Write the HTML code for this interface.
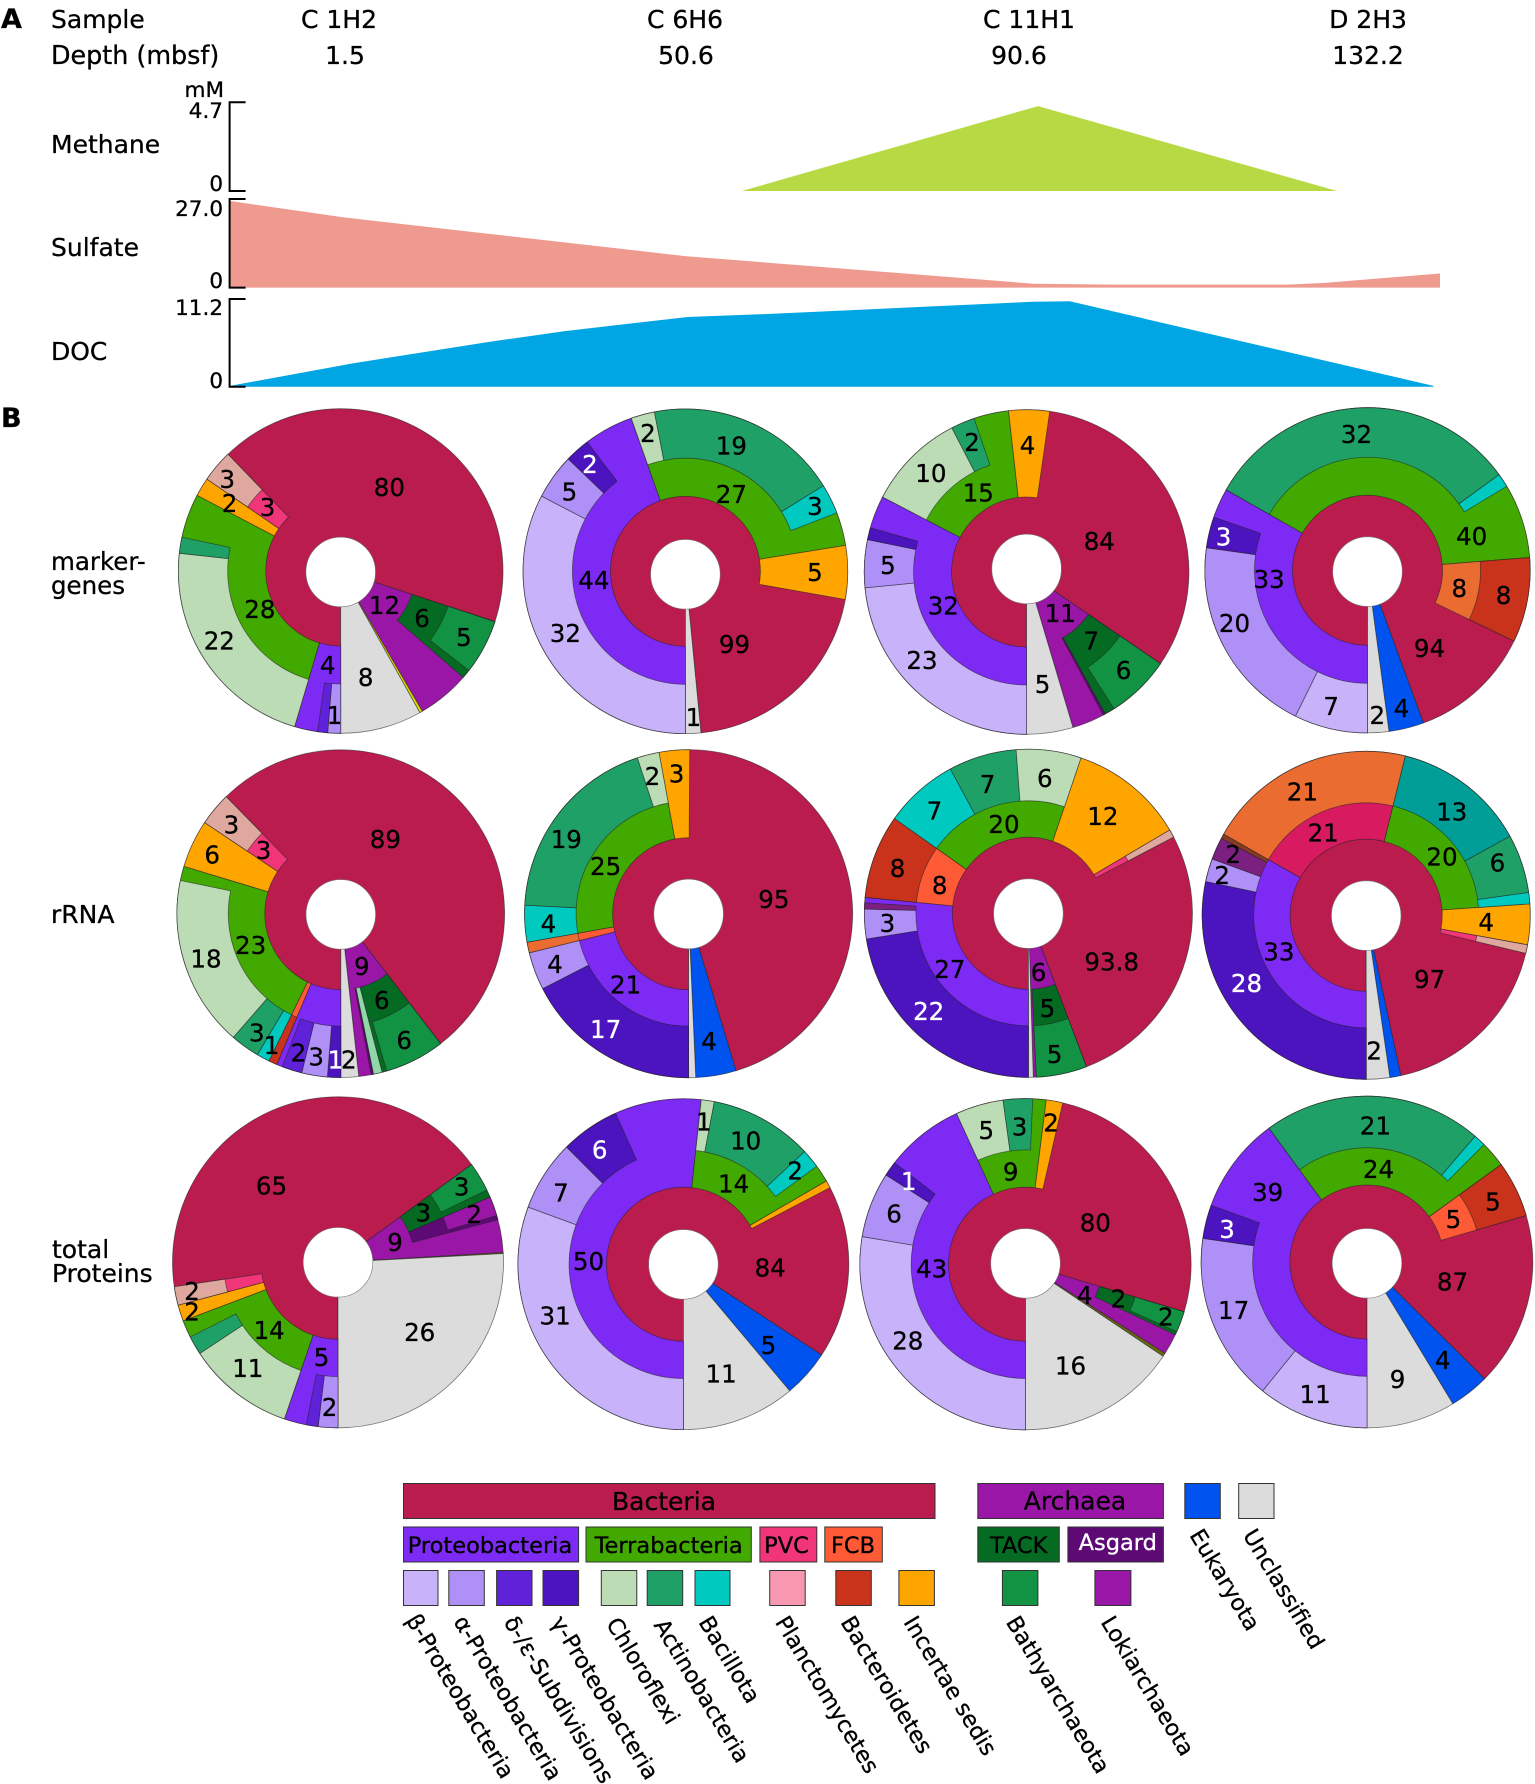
<!DOCTYPE html>
<html lang="en">
<head>
<meta charset="utf-8">
<title>Sample geochemistry and taxonomic composition</title>
<style>
html,body{margin:0;padding:0;background:#fff;}
svg{display:block;}
text{font-family:"DejaVu Sans","Liberation Sans",sans-serif;fill:#000;stroke:#000;stroke-width:.3px;}
.h{font-size:25px;}
.t{font-size:21.5px;text-anchor:end;}
.c{font-size:25px;text-anchor:middle;}
.lg{font-size:25px;text-anchor:middle;}
.lm{font-size:22.5px;text-anchor:middle;}
.lr{font-size:22.5px;}
.sw{stroke:#333;stroke-width:1;}
</style>
</head>
<body>
<svg id="chart" xmlns="http://www.w3.org/2000/svg" width="1535" height="1784" viewBox="0 0 1535 1784">
  <rect x="0" y="0" width="1535" height="1784" fill="#fff"/>
  <text x="1" y="28" font-size="27" font-weight="bold">A</text>
  <text x="1" y="427" font-size="27" font-weight="bold">B</text>
  <text class="h" x="51" y="28">Sample</text>
  <text class="h" x="51" y="64" style="font-size:25.4px">Depth (mbsf)</text>
  <text class="c" x="339" y="28">C 1H2</text>
  <text class="c" x="685" y="28">C 6H6</text>
  <text class="c" x="1029" y="28">C 11H1</text>
  <text class="c" x="1368" y="28">D 2H3</text>
  <text class="c" x="345" y="64">1.5</text>
  <text class="c" x="686" y="64">50.6</text>
  <text class="c" x="1019" y="64">90.6</text>
  <text class="c" x="1368" y="64">132.2</text>

  <text class="t" x="224" y="97">mM</text>
  <text class="h" x="51" y="153">Methane</text>
  <text class="h" x="51" y="256">Sulfate</text>
  <text class="h" x="51" y="360">DOC</text>

  <g id="areas"></g>

  <path d="M245.6 102.3H229.6V191H245.6" fill="none" stroke="#000" stroke-width="2"/>
  <path d="M245.6 199H229.6V287.6H245.6" fill="none" stroke="#000" stroke-width="2"/>
  <path d="M245.6 299H229.6V386.7H245.6" fill="none" stroke="#000" stroke-width="2"/>
  <text class="t" x="223" y="118">4.7</text>
  <text class="t" x="223" y="191">0</text>
  <text class="t" x="223" y="216">27.0</text>
  <text class="t" x="223" y="288">0</text>
  <text class="t" x="223" y="315">11.2</text>
  <text class="t" x="223" y="388">0</text>

  <text class="h" x="51" y="570" style="font-size:24.5px">marker-</text>
  <text class="h" x="51" y="594" style="font-size:24.5px">genes</text>
  <text class="h" x="51" y="923">rRNA</text>
  <text class="h" x="52" y="1258">total</text>
  <text class="h" x="52" y="1282">Proteins</text>

  <g id="pies"></g>

  <g>
    <rect class="sw" x="403.5" y="1483.5" width="531.5" height="35" fill="#bb1c4e"/>
    <rect class="sw" x="977.8" y="1483.5" width="185.6" height="35" fill="#9a16a6"/>
    <rect class="sw" x="1184.8" y="1483.5" width="35.5" height="35" fill="#0053ef"/>
    <rect class="sw" x="1238.7" y="1483.5" width="35.3" height="35" fill="#dcdcdc"/>
    <text class="lg" x="664" y="1510">Bacteria</text>
    <text class="lg" x="1075" y="1509.5">Archaea</text>

    <rect class="sw" x="403.5" y="1527" width="175.1" height="35" fill="#7e2af5"/>
    <rect class="sw" x="586" y="1527" width="165.3" height="35" fill="#41a900"/>
    <rect class="sw" x="759.9" y="1527" width="56.9" height="35" fill="#f03579"/>
    <rect class="sw" x="824.8" y="1527" width="57.5" height="35" fill="#ff5a36"/>
    <rect class="sw" x="977.8" y="1527" width="81.5" height="35" fill="#066b22"/>
    <rect class="sw" x="1067.9" y="1527" width="95.5" height="35" fill="#5d0a75"/>
    <text class="lm" x="490" y="1553">Proteobacteria</text>
    <text class="lm" x="668.6" y="1553">Terrabacteria</text>
    <text class="lm" x="786.5" y="1553">PVC</text>
    <text class="lm" x="853" y="1553">FCB</text>
    <text class="lm" x="1018.6" y="1553">TACK</text>
    <text class="lm" x="1117.8" y="1550" style="fill:#fff;stroke:#fff">Asgard</text>

    <rect class="sw" x="403.5" y="1570.5" width="34.5" height="35" fill="#c8b3fb"/>
    <rect class="sw" x="448.8" y="1570.5" width="35.5" height="35" fill="#ae90f7"/>
    <rect class="sw" x="496.6" y="1570.5" width="35.4" height="35" fill="#5f22d8"/>
    <rect class="sw" x="543" y="1570.5" width="35.6" height="35" fill="#4b14bf"/>
    <rect class="sw" x="601.3" y="1570.5" width="35.5" height="35" fill="#bbdcb4"/>
    <rect class="sw" x="647.2" y="1570.5" width="35.5" height="35" fill="#1fa066"/>
    <rect class="sw" x="695" y="1570.5" width="35" height="35" fill="#00c9bf"/>
    <rect class="sw" x="769.7" y="1570.5" width="35.5" height="35" fill="#f798b0"/>
    <rect class="sw" x="835.8" y="1570.5" width="35.5" height="35" fill="#c9321b"/>
    <rect class="sw" x="898.9" y="1570.5" width="35.5" height="35" fill="#ffa500"/>
    <rect class="sw" x="1002.4" y="1570.5" width="35.5" height="35" fill="#119343"/>
    <rect class="sw" x="1094.9" y="1570.5" width="36" height="35" fill="#9a16a6"/>

    <text class="lr" transform="translate(405.5 1620) rotate(59)">β-Proteobacteria</text>
    <text class="lr" transform="translate(453 1621.5) rotate(59)">α-Proteobacteria</text>
    <text class="lr" transform="translate(503.3 1622) rotate(59)">δ-/ε-Subdivisions</text>
    <text class="lr" transform="translate(550.4 1622) rotate(59)">γ-Proteobacteria</text>
    <text class="lr" transform="translate(605.6 1623.5) rotate(59)">Chloroflexi</text>
    <text class="lr" transform="translate(653.3 1625) rotate(59)">Actinobacteria</text>
    <text class="lr" transform="translate(698 1622) rotate(59)">Bacillota</text>
    <text class="lr" transform="translate(774.6 1622) rotate(59)">Planctomycetes</text>
    <text class="lr" transform="translate(840 1622) rotate(59)">Bacteroidetes</text>
    <text class="lr" transform="translate(903 1622) rotate(59)">Incertae sedis</text>
    <text class="lr" transform="translate(1005.4 1622) rotate(59)">Bathyarchaeota</text>
    <text class="lr" transform="translate(1100.3 1622) rotate(59)">Lokiarchaeota</text>
    <text class="lr" transform="translate(1189 1535) rotate(59)">Eukaryota</text>
    <text class="lr" transform="translate(1242.4 1535) rotate(59)">Unclassified</text>
  </g>
</svg>

<script>
/* ---------- Panel A data (depth in mbsf, concentration in mM) ---------- */
const methaneDepths = [57.2, 91.6, 128.4];
const methaneValues = [0, 4.5, 0];
const sulfateDepths = [0, 2.04, 50.6, 91, 100.9, 122.2, 126.7, 141];
const sulfateValues = [26.4, 21.4, 9.6, 1.2, 0.9, 0.9, 1.4, 4.3];
const docDepths = [0, 3.4, 23.3, 33.5, 50.9, 60.5, 91, 95.5, 140.2];
const docValues = [0.1, 3, 5.8, 7.1, 8.9, 9.3, 10.85, 10.9, 0.1];

/* ---------- Panel B data: segments clockwise from 6 o'clock ---------- */
const markerC1Taxa = ['bac.pro.alp','bac.pro.del','bac.pro','bac.ter.chl','bac.ter.act','bac.ter','bac.inc','bac.pvc.sal','bac','arc.tack.bath','arc.tack','arc','yel','unc'];
const markerC1Shares = [4.6,3.6,8.3,79.8,5.7,15.8,6.7,11.5,152.2,19.6,3.2,18.8,1,29.2];
const markerC1Printed = ['12','6','5','8','1','4','22','28','2','3','3','80'];
const markerC2Taxa = ['bac.pro.beta','bac.pro.alp','bac.pro.gam','bac.pro','bac.ter.chl','bac.ter.act','bac.ter.bacl','bac.ter','bac.inc','bac','unc'];
const markerC2Shares = [117.6,16.2,9,17.7,8.5,69.2,10.7,11.9,19.2,74.5,5.5];
const markerC2Printed = ['99','1','32','44','5','2','2','19','27','3','5'];
const markerC3Taxa = ['bac.pro.beta','bac.pro.alp','bac.pro.gam','bac.pro','bac.ter.chl','bac.ter.act','bac.ter','bac.inc','bac','arc.tack.bath','arc.tack','arc.asg','arc','unc'];
const markerC3Shares = [84.4,17.1,4.3,11.7,35.1,8.5,12.5,14.6,116.2,23,3.6,0.8,11.6,16.6];
const markerC3Printed = ['84','4','2','10','15','5','32','23','5','11','7','6'];
const markerC4Taxa = ['bac.pro.beta','bac.pro.alp','bac.pro.gam','bac.pro','bac.ter.act','bac.ter.bacl','bac.ter','bac.fcbo.rbd','bac','euk','unc'];
const markerC4Shares = [26.3,71.7,11.1,10.6,114.3,4.9,26.6,30.3,44.1,12.5,7.6];
const markerC4Printed = ['32','40','3','33','20','8','8','94','7','2','4'];

const rrnaC1Taxa = ['bac.pro.gam','bac.pro.alp','bac.pro.del','bac.pro','bac.fcb.rbd','bac.ter.bacl','bac.ter.act','bac.ter.chl','bac.ter','bac.inc','bac.pvc.sal','bac','arc.tack.bath','arc.tack','arc.mint','arc.asg','arc','unc'];
const rrnaC1Shares = [4.7,9.1,7.1,2.1,3,4.6,10.4,60.7,5.1,17,11.8,186.9,21.2,1.7,3.1,0.8,4.4,6.3];
const rrnaC1Printed = ['89','3','3','6','18','23','9','6','6','3','1','2','3','1','2'];
const rrnaC2Taxa = ['bac.pro.gam','bac.pro.alp','bac.fcb.ora','bac.ter.bacl','bac.ter.act','bac.ter.chl','bac.inc','bac','euk','unc'];
const rrnaC2Shares = [62.8,13.4,3.8,13,68.8,7.8,10.8,162.8,14.3,2.5];
const rrnaC2Printed = ['95','3','2','19','25','4','4','21','17','4'];
const rrnaC3Taxa = ['bac.pro.gam','bac.pro.alp','bac.pro.dpu','bac.pro','bac.fcb.rbd','bac.ter.bacl','bac.ter.act','bac.ter.chl','bac.inc','bac.pvc.sal','bac','arc.tack.bath','arc','unc'];
const rrnaC3Shares = [81,10.5,2.2,1.9,29.7,26.3,24.1,23,40.8,2.8,97,17.9,1.1,1.7];
const rrnaC3Printed = ['93.8','12','6','7','20','7','8','8','3','27','22','6','5','5'];
const rrnaC4Taxa = ['bac.pro.gam','bac.pro.alp','bac.pro.dpu','bac.pro.brn','bac.mag.ora','bac.ter.teal','bac.ter.act','bac.ter.bacl','bac.inc','bac.pvc.sal','bac','euk','unc'];
const rrnaC4Shares = [101.9,8.2,7.9,1.7,74.1,47.4,20.8,4,14.4,3,64.4,3.9,8.3];
const rrnaC4Printed = ['21','13','21','20','6','4','2','2','33','28','97','2'];

const proteinC1Taxa = ['bac.pro.alp','bac.pro.del','bac.pro','bac.ter.chl','bac.ter.act','bac.ter','bac.inc','bac.pvc.sal','bac','arc.tack.bath','arc.tack','arc.asg.loki','arc.asg','arc','oli','unc'];
const proteinC1Shares = [6.9,4.1,7.9,37.7,6.6,6.1,5.7,6.5,152.3,10.3,2.7,6.8,1.5,11.5,0.4,93];
const proteinC1Printed = ['65','3','3','2','9','2','2','14','11','5','2','26'];
const proteinC2Taxa = ['bac.pro.beta','bac.pro.alp','bac.pro.gam','bac.pro','bac.ter.chl','bac.ter.act','bac.ter.bacl','bac.ter','bac.inc','bac','euk','unc'];
const proteinC2Shares = [110.2,24.9,20.7,30.4,4.6,36.3,6.6,6.1,2.6,60.9,16.7,40];
const proteinC2Printed = ['1','10','2','14','6','7','50','31','84','5','11'];
const proteinC3Taxa = ['bac.pro.beta','bac.pro.alp','bac.pro.gam','bac.pro','bac.ter.chl','bac.ter.act','bac.ter','bac.inc','bac','arc.tack.bath','arc.tack','arc','oli','unc'];
const proteinC3Shares = [99.6,23,5.2,27.6,16.8,10.3,4.7,5.8,93.7,7.3,1.2,7.4,1.2,56.2];
const proteinC3Printed = ['80','5','3','2','9','1','6','43','28','16','4','2','2'];
const proteinC4Taxa = ['bac.pro.beta','bac.pro.alp','bac.pro.gam','bac.pro','bac.ter.act','bac.ter.bacl','bac.ter','bac.fcb.rbd','bac','euk','unc'];
const proteinC4Shares = [39,59.2,11.8,33.8,76.9,4.2,9.1,19.7,61.1,14,31.2];
const proteinC4Printed = ['21','24','39','3','17','11','9','4','87','5','5'];

const rowNames = ['marker-genes','rrna','total-proteins'];
const sampleNames = ['c-1h2','c-6h6','c-11h1','d-2h3'];

/* ---------- layout and style (not data) ---------- */
const taxonColors = {
  bac:'#bb1c4e', pro:'#7e2af5', ter:'#41a900', pvc:'#f03579', fcb:'#ff5a36', fcbo:'#ea6c30', mag:'#d81b60',
  inc:'#ffa500', arc:'#9a16a6', tack:'#066b22', asg:'#5d0a75', euk:'#0053ef', unc:'#dcdcdc', yel:'#d8d800', oli:'#6b6b10',
  beta:'#c8b3fb', alp:'#ae90f7', del:'#5f22d8', gam:'#4b14bf', dpu:'#7b2080', brn:'#8a3a20',
  chl:'#bbdcb4', act:'#1fa066', bacl:'#00c9bf', teal:'#009e96',
  sal:'#dfa89f', rbd:'#c9321b', ora:'#ea6c30', bath:'#119343', loki:'#9a16a6', mint:'#90d8a8'
};
const taxonNames = {
  bac:'bacteria', pro:'proteobacteria', ter:'terrabacteria', pvc:'pvc', fcb:'fcb', fcbo:'fcb', mag:'bacteria-group',
  inc:'incertae-sedis', arc:'archaea', tack:'tack', asg:'asgard', euk:'eukaryota', unc:'unclassified', yel:'eukaryota', oli:'eukaryota',
  beta:'beta-proteobacteria', alp:'alpha-proteobacteria', del:'delta-epsilon', gam:'gamma-proteobacteria', dpu:'proteobacteria-other', brn:'proteobacteria-other',
  chl:'chloroflexi', act:'actinobacteria', bacl:'bacillota', teal:'terrabacteria-other',
  sal:'planctomycetes', rbd:'bacteroidetes', ora:'fcb-outer', bath:'bathyarchaeota', loki:'lokiarchaeota', mint:'archaea-other'
};
const pieTaxa = [markerC1Taxa,markerC2Taxa,markerC3Taxa,markerC4Taxa,rrnaC1Taxa,rrnaC2Taxa,rrnaC3Taxa,rrnaC4Taxa,proteinC1Taxa,proteinC2Taxa,proteinC3Taxa,proteinC4Taxa];
const pieShares = [markerC1Shares,markerC2Shares,markerC3Shares,markerC4Shares,rrnaC1Shares,rrnaC2Shares,rrnaC3Shares,rrnaC4Shares,proteinC1Shares,proteinC2Shares,proteinC3Shares,proteinC4Shares];
const piePrinted = [markerC1Printed,markerC2Printed,markerC3Printed,markerC4Printed,rrnaC1Printed,rrnaC2Printed,rrnaC3Printed,rrnaC4Printed,proteinC1Printed,proteinC2Printed,proteinC3Printed,proteinC4Printed];
const pieFrames = [
  {x:340.7,y:571,r:162.3,hole:1},{x:685.4,y:571.3,r:162.3,hole:3},{x:1026.6,y:572,r:162.3,hole:-3},{x:1367.5,y:570.3,r:162.6,hole:1.3},
  {x:340.8,y:913.7,r:163.8,hole:0.7},{x:688.6,y:913.7,r:164,hole:0.3},{x:1028.4,y:913.3,r:164,hole:0.3},{x:1366.2,y:915.3,r:164,hole:0.3},
  {x:338,y:1262.3,r:165.5,hole:0},{x:683.4,y:1264.2,r:165.4,hole:0.2},{x:1025.5,y:1264.2,r:165.6,hole:-0.8},{x:1367,y:1262,r:165.8,hole:1.3}
];
const ringBreaks = [[75,113],[76,112.5],[77,114.3]];
const holeRadius = 34.8;
const labelOffsets = [
  [[43.8,34],[81.3,47.3],[123.2,66.3],[25,106.3],[-6.3,144],[-13,94],[-121.4,69.7],[-80.8,38.3],[-111.2,-67.7],[-113.4,-92],[-73.2,-63.7],[48.7,-83.7]],
  [[49.1,72.7],[8,146],[-120,62],[-91.5,8.7],[-116,-79.7],[-95.5,-107.3],[-37.5,-138],[46,-125.7],[46,-77.3],[129.5,-65.3],[129.5,1]],
  [[72.7,-31],[0.9,-127],[-54.5,-129.7],[-95.7,-98.7],[-48.3,-79.3],[-138.7,-7],[-83.3,33.7],[-104.6,88],[16,112],[33.7,41.3],[64.7,68.7],[97,98]],
  [[-11,-136.3],[104.2,-34.3],[-144,-33.7],[-98.4,9],[-133,53],[91.8,18],[136,24.7],[62,78],[-36.3,135.7],[9.8,144.7],[34.1,138]],
  [[44.6,-74.7],[-109.4,-89.3],[-77.2,-63.7],[-128.6,-59.3],[-134.8,44.7],[-90.2,31.3],[21,52.3],[41,86.3],[63.4,126.3],[-84,118.7],[-69.2,131.3],[-42.4,138.7],[-24.6,143],[-5.4,145.7],[8,145.7]],
  [[85.3,-14.7],[-12,-140.3],[-36.2,-137.7],[-122.3,-74.7],[-83,-47.7],[-140.2,9.7],[-133.5,50.3],[-63,70.7],[-83,115.3],[20.5,127.3]],
  [[83.3,48.3],[74.5,-97.3],[16.4,-135],[-40.8,-129],[-24.4,-89],[-94,-102.7],[-130.8,-45],[-88.7,-28.3],[-141,10],[-78.5,56],[-99.7,97.7],[10.2,59],[19,95],[26.2,141]],
  [[-63.8,-123.7],[85.5,-103.7],[-43,-82.7],[75.8,-58.7],[131.2,-52.7],[120,7],[-133,-61],[-144,-40.3],[-87.3,36.3],[-119.7,68],[63.4,63.7],[8,135.3]],
  [[-66.5,-76.7],[123.7,-75.7],[85.3,-49.7],[136.2,-48],[57.1,-20],[-146,28.7],[-146,49.3],[-68.8,67.7],[-90.2,106],[-16.5,95],[-8.5,145],[81.7,70]],
  [[20.3,-142.5],[62.3,-123.5],[111.8,-93.5],[50.2,-80.8],[-83.7,-114.8],[-122.5,-71.5],[-94.9,-3.2],[-128.3,51.5],[86.8,3.2],[85,80.8],[37.7,109.2]],
  [[69.8,-41.8],[-39.2,-134.2],[-6,-137.5],[25.5,-141.5],[-14.8,-92.5],[-116.8,-83.2],[-131.4,-50.8],[-93.8,4.2],[-117.7,76.5],[45,101.5],[59.2,30.8],[92.9,34.2],[140.3,52.5]],
  [[8.4,-136.3],[11.5,-92.7],[-99.3,-69.7],[-140,-32.7],[-133.4,48],[-51.9,132],[30.6,117],[75.8,98],[85.5,19.7],[86.4,-43],[125.9,-60.3]]
];
const lightLabelIndex = [-1,5,-1,2,13,8,10,9,-1,4,5,3];

/* ---------- axis functions ---------- */
const depthAnchors = [0,1.5,50.6,90.6,132.2,141];
const depthPixels = [230,340,685,1030,1368,1440];
function xOfDepth(d){
  let i = 0;
  while (i < depthAnchors.length - 2 && d > depthAnchors[i+1]) i++;
  const t = (d - depthAnchors[i]) / (depthAnchors[i+1] - depthAnchors[i]);
  return depthPixels[i] + t * (depthPixels[i+1] - depthPixels[i]);
}
function linearY(maxValue, topPx, zeroPx){
  return function(v){ return zeroPx - (v / maxValue) * (zeroPx - topPx); };
}
const yMethane = linearY(4.7, 102.3, 191);
const ySulfate = linearY(27, 199, 287.6);
const yDoc = linearY(11.2, 299, 386.7);

const NS = 'http://www.w3.org/2000/svg';

function drawArea(depths, values, yFn, color, name){
  const zero = yFn(0);
  let d = 'M' + xOfDepth(depths[0]).toFixed(1) + ' ' + zero.toFixed(1);
  depths.forEach(function(dep, i){
    d += 'L' + xOfDepth(dep).toFixed(1) + ' ' + yFn(values[i]).toFixed(1);
  });
  d += 'L' + xOfDepth(depths[depths.length-1]).toFixed(1) + ' ' + zero.toFixed(1) + 'Z';
  const p = document.createElementNS(NS, 'path');
  p.setAttribute('d', d);
  p.setAttribute('fill', color);
  
  
  document.getElementById('areas').appendChild(p);
}
drawArea(methaneDepths, methaneValues, yMethane, '#b7d944', 'methane-area');
drawArea(sulfateDepths, sulfateValues, ySulfate, '#ef9a8f', 'sulfate-area');
drawArea(docDepths, docValues, yDoc, '#00a5e3', 'doc-area');

/* ---------- pies ---------- */
function polar(cx, cy, r, deg){
  const a = deg * Math.PI / 180;
  return [cx + r * Math.sin(a), cy - r * Math.cos(a)];
}
function sectorPath(cx, cy, r0, r1, a0, a1){
  const large = (a1 - a0) > 180 ? 1 : 0;
  const p1 = polar(cx, cy, r1, a0), p2 = polar(cx, cy, r1, a1);
  let d = 'M' + p1[0].toFixed(2) + ' ' + p1[1].toFixed(2) +
          'A' + r1 + ' ' + r1 + ' 0 ' + large + ' 1 ' + p2[0].toFixed(2) + ' ' + p2[1].toFixed(2);
  if (r0 > 0) {
    const p3 = polar(cx, cy, r0, a1), p4 = polar(cx, cy, r0, a0);
    d += 'L' + p3[0].toFixed(2) + ' ' + p3[1].toFixed(2) +
         'A' + r0 + ' ' + r0 + ' 0 ' + large + ' 0 ' + p4[0].toFixed(2) + ' ' + p4[1].toFixed(2);
  } else {
    d += 'L' + cx + ' ' + cy;
  }
  return d + 'Z';
}
function drawPie(index){
  const frame = pieFrames[index];
  const row = Math.floor(index / 4);
  const taxa = pieTaxa[index];
  const shares = pieShares[index];
  const total = shares.reduce(function(a, b){ return a + b; }, 0);
  const toDeg = function(v){ return v / total * 360; };
  const rings = [0, ringBreaks[row][0], ringBreaks[row][1]];
  const group = document.createElementNS(NS, 'g');
  
  
  document.getElementById('pies').appendChild(group);

  for (let depth = 0; depth < 3; depth++) {
    let angle = 180;
    let run = null;
    const flush = function(){
      if (!run) return;
      const sweep = run.end - run.start;
      const p = document.createElementNS(NS, 'path');
      const key = run.prefix[run.prefix.length - 1];
      p.setAttribute('d', sectorPath(frame.x, frame.y, rings[depth], frame.r, run.start, run.start + Math.min(sweep, 359.99)));
      p.setAttribute('fill', taxonColors[key]);
      p.setAttribute('stroke', '#222');
      p.setAttribute('stroke-opacity', '0.6');
      p.setAttribute('stroke-width', '0.8');
      p.setAttribute('stroke-linejoin', 'round');
      
      
      group.appendChild(p);
      run = null;
    };
    taxa.forEach(function(path, i){
      const parts = path.split('.');
      const width = toDeg(shares[i]);
      if (parts.length > depth) {
        const prefix = parts.slice(0, depth + 1);
        if (run && run.prefix.join('.') === prefix.join('.')) {
          run.end = angle + width;
        } else {
          flush();
          run = {prefix: prefix, start: angle, end: angle + width};
        }
      } else {
        flush();
      }
      angle += width;
    });
    flush();
  }

  const hole = document.createElementNS(NS, 'circle');
  hole.setAttribute('cx', frame.x);
  hole.setAttribute('cy', frame.y + frame.hole);
  hole.setAttribute('r', holeRadius);
  hole.setAttribute('fill', '#fff');
  hole.setAttribute('stroke', '#777');
  hole.setAttribute('stroke-width', '0.6');
  
  
  group.appendChild(hole);

  piePrinted[index].forEach(function(label, i){
    const spot = labelOffsets[index][i];
    const t = document.createElementNS(NS, 'text');
    t.setAttribute('x', (frame.x + spot[0]).toFixed(1));
    t.setAttribute('y', (frame.y + spot[1] + 8.9).toFixed(1));
    t.setAttribute('text-anchor', 'middle');
    t.setAttribute('font-size', '24.5');
    if (lightLabelIndex[index] === i) {
      t.style.fill = '#fff';
      t.style.stroke = '#fff';
    }
    t.textContent = label;
    
    
    group.appendChild(t);
  });
}
for (let i = 0; i < 12; i++) drawPie(i);
</script>
</body>
</html>
